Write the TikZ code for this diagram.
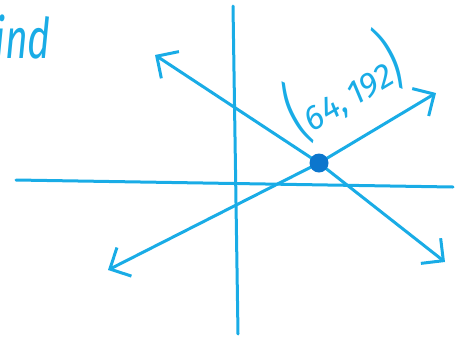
\documentclass[tikz,border=0pt]{standalone}
\usepackage{fontspec}
\newfontfamily\handf{Fira Sans}
\usetikzlibrary{arrows.meta}
\definecolor{ink}{RGB}{25,172,230}
\definecolor{dotc}{RGB}{12,118,205}
\begin{document}
\begin{tikzpicture}[x=1pt,y=-1pt,
  pen/.style={draw=ink,line width=3pt,line cap=round,line join=round},
  arr/.style={pen,-{Straight Barb[length=16pt,width=32pt,line width=3pt]}},
  hand/.style={text=ink,font=\handf\itshape,inner sep=0pt}]
\useasboundingbox (0,0) rectangle (468,341);
% axes
\coordinate (yt) at (233,6);
\coordinate (yb) at (238,334);
\coordinate (xl) at (16,180);
\coordinate (xr) at (453,187);
\draw[pen] (yt) -- (yb);
\draw[pen] (xl) -- (xr);
% lines
\coordinate (p) at (319,163);
\coordinate (a1) at (108,270);
\coordinate (a2) at (436,93);
\coordinate (b1) at (155,55);
\coordinate (b2) at (445,262);
\draw[arr] (p) -- (a1);
\draw[arr] (p) -- (a2);
\draw[arr] (p) -- (b1);
\draw[arr] (p) -- (b2);
\fill[dotc] (p) circle (9.5);
% label
\node[hand,rotate=31] (lab) at (342,86)
  {\scalebox{0.55}[1]{\fontsize{70}{70}\selectfont(}\fontsize{34}{34}\selectfont 64,\,192\scalebox{0.55}[1]{\fontsize{70}{70}\selectfont)}};
\node[hand,anchor=base west] (ind) at (-6,58)
  {\scalebox{0.7}[1]{\fontsize{56}{56}\selectfont ind}};
\end{tikzpicture}
\end{document}
